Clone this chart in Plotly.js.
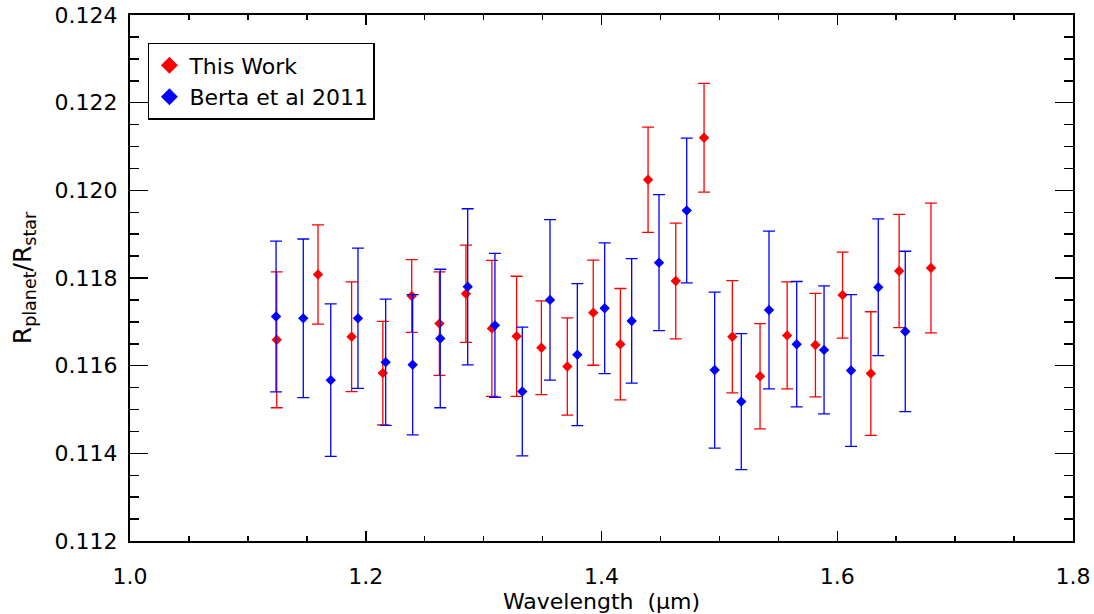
<!DOCTYPE html>
<html>
<head>
<meta charset="utf-8">
<script src="https://cdn.plot.ly/plotly-3.0.1.min.js"></script>
<style>html,body{margin:0;padding:0;background:#fff;}#chart{width:1094px;height:614px;}</style>
</head>
<body>
<div id="chart"></div>
<script>
// This Work (red)
var redWave = [1.1245, 1.1595, 1.188, 1.2145, 1.239, 1.2625, 1.285, 1.307, 1.328, 1.349, 1.371, 1.393,
               1.416, 1.4395, 1.463, 1.487, 1.511, 1.5345, 1.5575, 1.5815, 1.6045, 1.6285, 1.6525, 1.6795];
var redRatio = [0.11659, 0.11808, 0.11666, 0.11583, 0.11759, 0.11696, 0.11764, 0.11685, 0.11667, 0.11641, 0.11598, 0.11721,
                0.11649, 0.12024, 0.11793, 0.12120, 0.11666, 0.11576, 0.11669, 0.11647, 0.11761, 0.11582, 0.11816, 0.11823];
var redErr = [0.00155, 0.00113, 0.00125, 0.00118, 0.00083, 0.00118, 0.00111, 0.00155, 0.00137, 0.00107, 0.00111, 0.00120,
              0.00127, 0.00120, 0.00132, 0.00124, 0.00128, 0.00120, 0.00122, 0.00118, 0.00098, 0.00141, 0.00129, 0.00148];

// Berta et al 2011 (blue)
var blueWave = [1.1239, 1.1470, 1.1703, 1.1934, 1.2169, 1.2398, 1.2632, 1.2865, 1.3096, 1.3328, 1.3563, 1.3795,
                1.4027, 1.4256, 1.4488, 1.4723, 1.4960, 1.5186, 1.5421, 1.5656, 1.5888, 1.6117, 1.6348, 1.6577];
var blueRatio = [0.11712, 0.11708, 0.11567, 0.11708, 0.11608, 0.11602, 0.11662, 0.11780, 0.11692, 0.11541, 0.11750, 0.11625,
                 0.11731, 0.11702, 0.11835, 0.11954, 0.11590, 0.11518, 0.11727, 0.11649, 0.11636, 0.11589, 0.11779, 0.11678];
var blueErr = [0.00172, 0.00181, 0.00174, 0.00160, 0.00144, 0.00160, 0.00158, 0.00178, 0.00164, 0.00147, 0.00183, 0.00162,
               0.00149, 0.00142, 0.00155, 0.00165, 0.00178, 0.00155, 0.00180, 0.00143, 0.00146, 0.00173, 0.00156, 0.00183];

var seriesNames = ['This Work', 'Berta et al 2011'];
var RED = '#ff0000', BLUE = '#0000ff';
var FONT = 'DejaVu Sans, sans-serif';

var traces = [
  {x: redWave, y: redRatio, type: 'scatter', mode: 'markers', name: seriesNames[0], showlegend: false,
   marker: {symbol: 'diamond', size: 8, color: RED},
   error_y: {type: 'data', array: redErr, visible: true, color: RED, thickness: 1.3, width: 6}},
  {x: blueWave, y: blueRatio, type: 'scatter', mode: 'markers', name: seriesNames[1], showlegend: false,
   marker: {symbol: 'diamond', size: 8, color: BLUE},
   error_y: {type: 'data', array: blueErr, visible: true, color: BLUE, thickness: 1.3, width: 6}},
  {x: [null], y: [null], type: 'scatter', mode: 'markers', name: seriesNames[0],
   marker: {symbol: 'diamond', size: 13, color: RED}},
  {x: [null], y: [null], type: 'scatter', mode: 'markers', name: seriesNames[1],
   marker: {symbol: 'diamond', size: 13, color: BLUE}}
];

var layout = {
  width: 1094, height: 614,
  margin: {l: 130, r: 21, t: 15, b: 73},
  paper_bgcolor: '#fff', plot_bgcolor: '#fff',
  font: {family: FONT, size: 22, color: '#000'},
  showlegend: true,
  legend: {x: 0.019, y: 0.947, xanchor: 'left', yanchor: 'top',
           bordercolor: '#000', borderwidth: 1.5, bgcolor: '#fff',
           font: {family: FONT, size: 22, color: '#000'}, tracegroupgap: 0},
  xaxis: {range: [1.0, 1.8], dtick: 0.2, tick0: 1.0, tickformat: '.1f',
          showgrid: false, zeroline: false, showline: true, linecolor: '#000', linewidth: 2, mirror: 'ticks',
          ticks: 'inside', ticklen: 10, tickwidth: 1.5, tickcolor: '#000',
          minor: {dtick: 0.05, ticks: 'inside', ticklen: 5, tickwidth: 1.5, tickcolor: '#000', showgrid: false},
          ticklabelstandoff: 15,
          tickfont: {family: FONT, size: 22, color: '#000'},
          title: {text: 'Wavelength\u00a0\u00a0(\u03bcm)', font: {family: FONT, size: 22, color: '#000'}, standoff: 5}},
  yaxis: {range: [0.112, 0.124], dtick: 0.002, tick0: 0.112, tickformat: '.3f',
          showgrid: false, zeroline: false, showline: true, linecolor: '#000', linewidth: 2, mirror: 'ticks',
          ticks: 'inside', ticklen: 18, tickwidth: 1.5, tickcolor: '#000',
          minor: {dtick: 0.0005, ticks: 'inside', ticklen: 9, tickwidth: 1.5, tickcolor: '#000', showgrid: false},
          ticklabelstandoff: 6,
          tickfont: {family: FONT, size: 22, color: '#000'},
          title: {text: 'R<sub>planet</sub>/R<sub>star</sub>', font: {family: FONT, size: 25, color: '#000'}, standoff: 16}}
};

Plotly.newPlot('chart', traces, layout, {displayModeBar: false, staticPlot: true});
</script>
</body>
</html>
